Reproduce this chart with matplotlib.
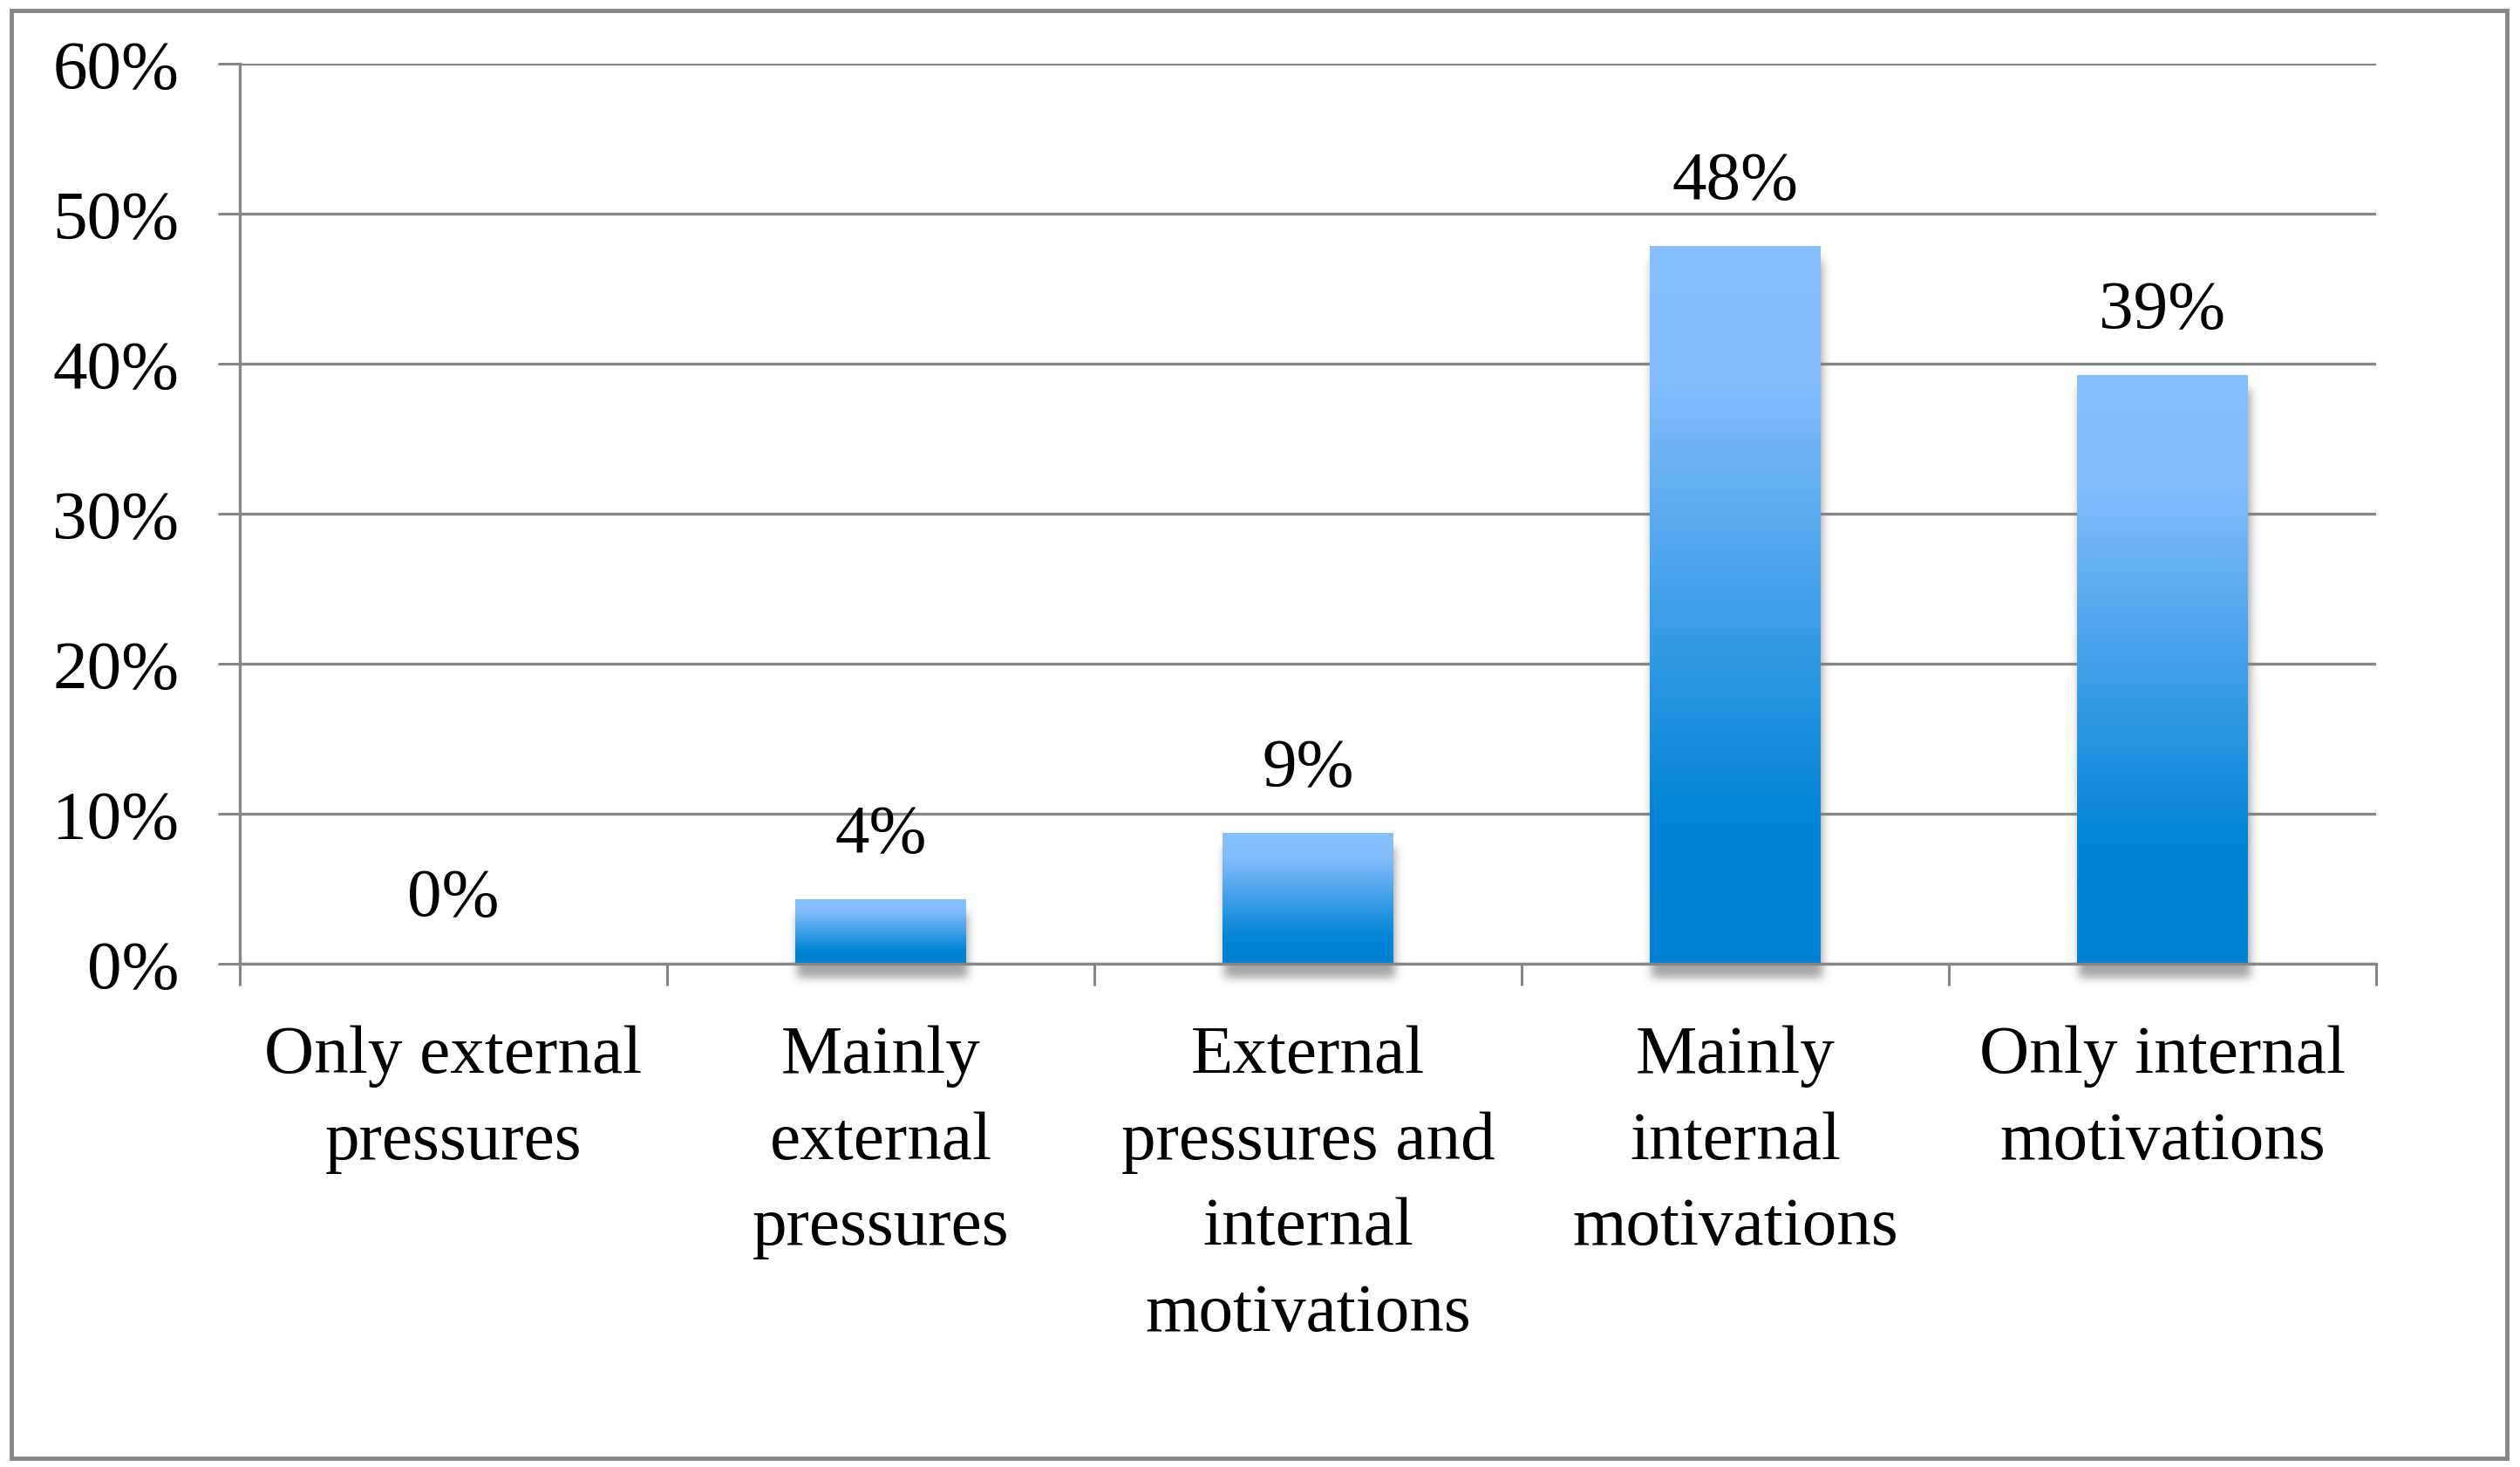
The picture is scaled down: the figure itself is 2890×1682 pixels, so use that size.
import matplotlib
matplotlib.use("Agg")
import matplotlib.pyplot as plt
import numpy as np
from matplotlib.colors import LinearSegmentedColormap
from matplotlib.patches import Rectangle

categories = ["Only external\npressures", "Mainly\nexternal\npressures",
              "External\npressures and\ninternal\nmotivations",
              "Mainly\ninternal\nmotivations", "Only internal\nmotivations"]
values = [0, 4.3, 8.7, 47.8, 39.2]
y_ticks = [0, 10, 20, 30, 40, 50, 60]
y_labels = ["0%", "10%", "20%", "30%", "40%", "50%", "60%"]

plt.rcParams['font.family'] = ['Liberation Serif', 'DejaVu Serif']
FS = 57
GRAY = '#868686'

W, H = 2890, 1683
fig = plt.figure(figsize=(W / 100, H / 100), dpi=100)
ax = fig.add_axes([275 / W, 1 - 1106 / H, (2725 - 275) / W, (1106 - 74) / H])

x = np.arange(len(values))
bars = ax.bar(x, values, width=0.4, color='none', edgecolor='none', zorder=3)

cmap = LinearSegmentedColormap.from_list(
    'bargrad', [(0.0, '#0081D3'), (0.2, '#0084D5'), (0.82, '#85BDFC'), (1.0, '#87BFFF')])
grad = np.linspace(0, 1, 256).reshape(-1, 1)

# pixel scale of data units
sx = (2725 - 275) / 5.0
sy = (1106 - 74) / 60.0

def blur1d(a, sigma, axis):
    r = int(3 * sigma)
    k = np.exp(-0.5 * (np.arange(-r, r + 1) / sigma) ** 2)
    k /= k.sum()
    return np.apply_along_axis(lambda v: np.convolve(v, k, mode='same'), axis, a)

for b in bars:
    x0, w, h = b.get_x(), b.get_width(), b.get_height()
    if h <= 0:
        continue
    ax.imshow(grad, extent=[x0, x0 + w, 0, h], origin='lower', cmap=cmap,
              aspect='auto', zorder=3, interpolation='bilinear')
    # soft drop shadow
    m = 34
    bw, bh = int(w * sx), int(h * sy)
    mask = np.zeros((bh + 2 * m, bw + 2 * m))
    off = 16
    mask[m + off:m + off + bh, m + 2:m + 2 + bw] = 1.0  # row 0 = top
    mask = blur1d(blur1d(mask, 5, 0), 5, 1)
    rgba = np.zeros(mask.shape + (4,))
    rgba[..., :3] = 0.5
    rgba[..., 3] = mask * 0.7
    ax.imshow(rgba, extent=[x0 - m / sx, x0 + w + m / sx, -m / sy, h + m / sy],
              origin='upper', aspect='auto', zorder=2.6, clip_on=False)

for xi, v in zip(x, values):
    ax.annotate(f"{v:.0f}%", (xi, v), xytext=(0, 40), textcoords='offset points',
                ha='center', va='baseline', fontsize=FS, color='black', zorder=5)

ax.set_xlim(-0.5, 4.5)
ax.set_ylim(0, 60)

ax.set_yticks(y_ticks)
ax.set_yticklabels(y_labels)
ax.yaxis.grid(True, color=GRAY, linewidth=2.4)
ax.set_axisbelow(True)
ax.tick_params(axis='y', length=18, width=2.2, color=GRAY, pad=32, labelsize=FS)

ax.set_xticks(x)
ax.set_xticklabels(categories, linespacing=1.5)
ax.set_xticks(np.arange(-0.5, 5, 1), minor=True)
ax.tick_params(axis='x', which='major', length=0, pad=50, labelsize=FS)
ax.tick_params(axis='x', which='minor', length=18, width=2.2, color=GRAY)

for s in ['top', 'right']:
    ax.spines[s].set_visible(False)
for s in ['left', 'bottom']:
    ax.spines[s].set_color(GRAY)
    ax.spines[s].set_linewidth(2.4)
    ax.spines[s].set_zorder(4)

fig.add_artist(Rectangle((13 / W, 1 - 1673 / H), (2875 - 13) / W, (1673 - 13) / H,
                         transform=fig.transFigure, fill=False, edgecolor=GRAY,
                         linewidth=3.5))

fig.savefig("out.png", dpi=100)
